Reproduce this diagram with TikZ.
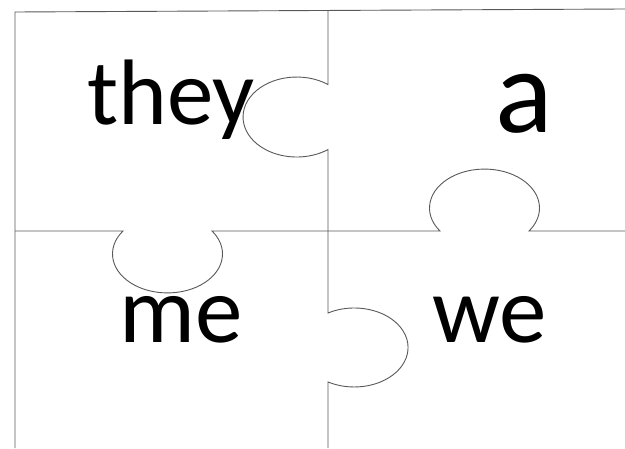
\documentclass[tikz,border=0pt]{standalone}
\usepackage{fontspec}
\setmainfont{Carlito}
\begin{document}
\begin{tikzpicture}[x=1pt,y=1pt,
  cut/.style={draw=black!65, line width=0.9pt},
  word/.style={inner sep=0pt, anchor=base, text=black}]
\useasboundingbox (0,0) rectangle (625,448);
\fill[white] (0,0) rectangle (625,448);
% outer edges
\draw[cut] (15,0) -- (15,436) -- (625,439);
% vertical seam with two tabs
\draw[cut] (328,437.5) -- (328,363.5)
  arc[start angle=54.4, end angle=305.6, x radius=53.7, y radius=40]
  -- (328,135)
  arc[start angle=119.2, end angle=-119.2, x radius=53.8, y radius=39.5]
  -- (328,0);
% horizontal seam with two tabs
\draw[cut] (15,217) -- (123,217)
  arc[start angle=144, end angle=396, x radius=55, y radius=39]
  -- (440,217)
  arc[start angle=216, end angle=-36, x radius=55, y radius=39]
  -- (625,217);
% words
\node[word, font=\fontsize{93}{93}\selectfont] (they) at (171,323) {they};
\node[word, font=\fontsize{120}{120}\selectfont] (a) at (524,315) {a};
\node[word, font=\fontsize{95}{95}\selectfont] (me) at (181,105) {me};
\node[word, font=\fontsize{95}{95}\selectfont] (we) at (490,105) {we};
\end{tikzpicture}
\end{document}
